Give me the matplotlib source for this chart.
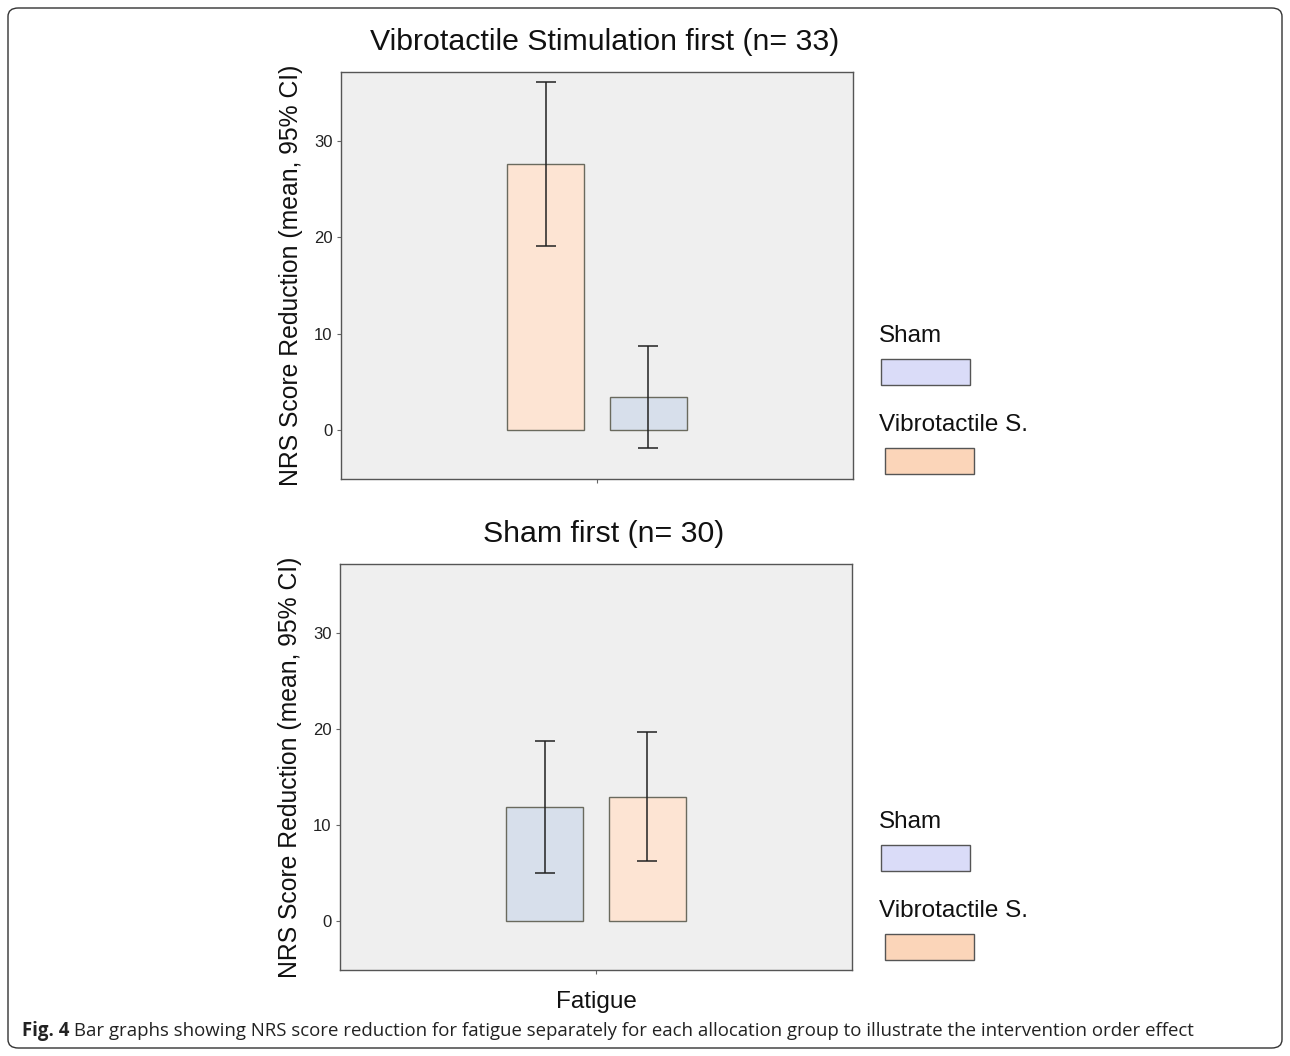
import matplotlib
matplotlib.use("Agg")
import matplotlib.pyplot as plt
from matplotlib.patches import FancyBboxPatch, Rectangle

plt.rcParams['font.family'] = ['Liberation Sans', 'DejaVu Sans']

# ---- data ----
panel_titles = ["Vibrotactile Stimulation first (n= 33)", "Sham first (n= 30)"]
category = "Fatigue"
# top panel: order left->right = Vibrotactile S., Sham
top_groups = ["Vibrotactile S.", "Sham"]
top_means = [27.6, 3.4]
top_lo = [19.1, -1.9]
top_hi = [36.2, 8.7]
# bottom panel: order left->right = Sham, Vibrotactile S.
bot_groups = ["Sham", "Vibrotactile S."]
bot_means = [11.9, 12.9]
bot_lo = [5.0, 6.3]
bot_hi = [18.8, 19.7]
yticks = [0, 10, 20, 30]
legend_labels = ["Sham", "Vibrotactile S."]
caption_bold = "Fig. 4"
caption_text = " Bar graphs showing NRS score reduction for fatigue separately for each allocation group to illustrate the intervention order effect"

bar_colors = {"Sham": "#d7dfeb", "Vibrotactile S.": "#fde4d3"}
legend_colors = {"Sham": "#dadcf8", "Vibrotactile S.": "#fbd5b9"}
edge = "#6a6a5e"

W, H = 1290, 1056
fig = plt.figure(figsize=(W / 100, H / 100), dpi=100)

# outer border
fig.patches.append(FancyBboxPatch((8 / W, 8 / H), 1274 / W, 1040 / H,
                                  boxstyle="round,pad=0,rounding_size=0.008",
                                  transform=fig.transFigure, fill=False,
                                  edgecolor="#333333", linewidth=1.0))

def panel(rect, title, groups, means, lo, hi, leg_y):
    ax = fig.add_axes(rect)
    ax.set_facecolor("#efefef")
    offs = [-0.2, 0.2]
    for g, m, l, h, o in zip(groups, means, lo, hi, offs):
        ax.bar(o, m, width=0.3, color=bar_colors[g], edgecolor=edge, linewidth=1.0, zorder=2)
        ax.errorbar(o, m, yerr=[[m - l], [h - m]], fmt="none", ecolor="#222222",
                    elinewidth=1.1, capsize=7.5, capthick=1.1, zorder=3)
    ax.set_xlim(-1, 1)
    ax.set_ylim(-5.1, 37.2)
    ax.set_yticks(yticks)
    ax.set_yticklabels([str(t) for t in yticks], fontsize=12, color="#222222")
    ax.set_xticks([0])
    ax.set_xticklabels([""])
    ax.tick_params(axis="both", length=3, width=0.8, color="#666666", pad=3)
    for s in ax.spines.values():
        s.set_color("#555555")
        s.set_linewidth(1.0)
    ax.set_ylabel("NRS Score Reduction (mean, 95% CI)", fontsize=17.8, labelpad=8, color="#111111")
    ax.set_title(title, fontsize=21.8, pad=16, x=0.515, color="#111111")
    # legend drawn manually in figure pixel coords
    for i, lab in enumerate(legend_labels):
        ty = leg_y + i * 89
        fig.text(879 / W, 1 - ty / H, lab, fontsize=17.5, va="center", ha="left", color="#111111")
        px = 881 + i * 4
        fig.patches.append(Rectangle((px / W, 1 - (ty + 49) / H), 89 / W, 26 / H,
                                     transform=fig.transFigure, facecolor=legend_colors[lab],
                                     edgecolor="#555555", linewidth=1.0))
    return ax

ax1 = panel([341 / W, 1 - 479 / H, 512 / W, 407 / H], panel_titles[0],
            top_groups, top_means, top_lo, top_hi, 336)
ax2 = panel([340 / W, 1 - 970 / H, 512 / W, 406 / H], panel_titles[1],
            bot_groups, bot_means, bot_lo, bot_hi, 822)
ax2.set_xlabel(category, fontsize=17.5, labelpad=9, color="#111111")

# caption
t = fig.text(22 / W, 1 - 1031 / H, caption_bold, fontsize=13.4, fontweight="bold",
             family=["Open Sans", "DejaVu Sans"], va="center", ha="left", color="#222222")
fig.canvas.draw()
bb = t.get_window_extent()
fig.text(bb.x1 / W, 1 - 1031 / H, caption_text, fontsize=13.4,
         family=["Open Sans", "DejaVu Sans"], va="center", ha="left", color="#222222")

fig.savefig("out.png", dpi=100)
